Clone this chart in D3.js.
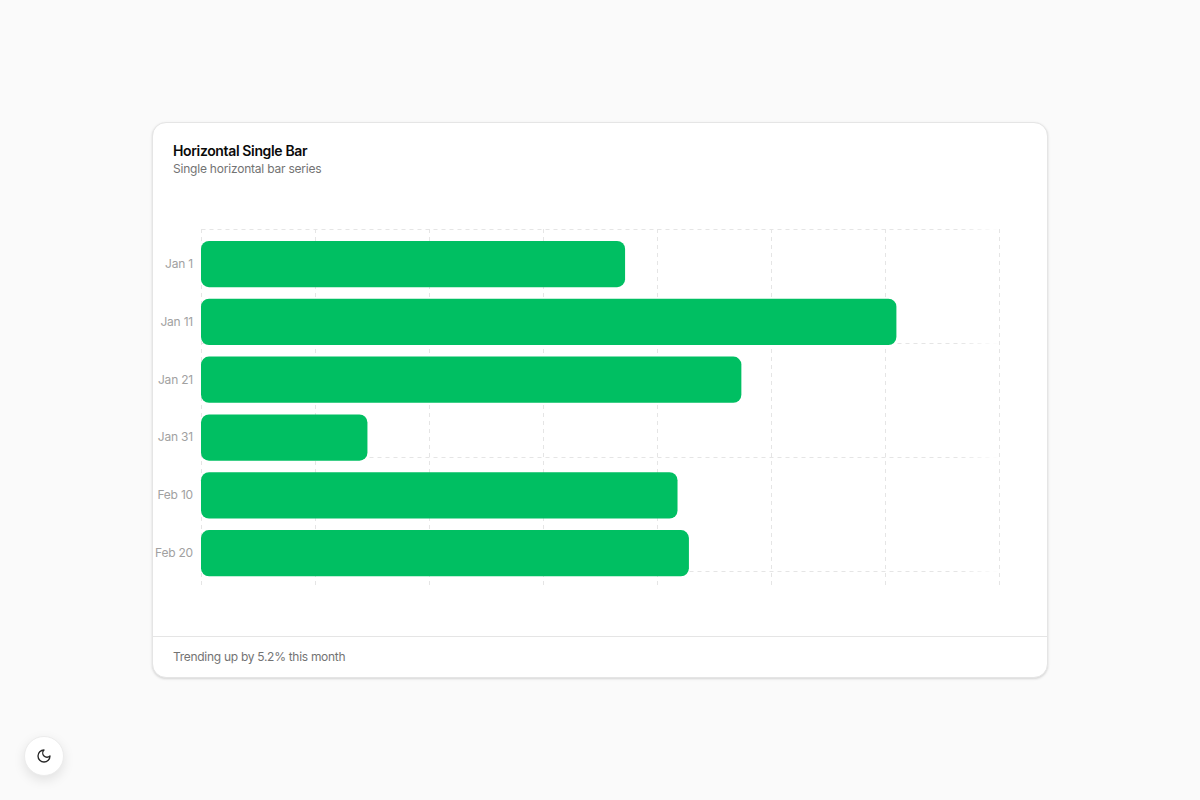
<!DOCTYPE html>
<html>
<head>
<meta charset="utf-8">
<script src="https://cdn.jsdelivr.net/npm/d3@7/dist/d3.min.js"></script>
<style>
html,body{margin:0;padding:0;background:#fafafa;width:1200px;height:800px;overflow:hidden;font-family:Inter,sans-serif;}
.card{position:absolute;left:152px;top:122px;width:894px;height:554px;background:#fff;border:1px solid #e5e5e5;border-radius:14px;box-shadow:0 1px 3px rgba(0,0,0,.1),0 1px 2px rgba(0,0,0,.06);}
.foot{position:absolute;left:0;right:0;top:513px;border-top:1px solid #e5e5e5;}
.t{position:absolute;white-space:nowrap;}
#title{left:173px;top:141.5px;font-size:14px;line-height:17px;font-weight:600;color:#0a0a0a;letter-spacing:-.36px;}
#sub{left:173px;top:161px;font-size:12px;line-height:16px;color:#737373;letter-spacing:-.21px;}
#note{left:173px;top:649px;font-size:12px;line-height:16px;color:#737373;letter-spacing:-.29px;}
#chart{position:absolute;left:0;top:0;}
.toggle{position:absolute;left:24px;top:736px;width:40px;height:40px;border-radius:50%;background:#fff;border:1px solid #ececec;box-sizing:border-box;box-shadow:0 4px 12px rgba(0,0,0,.1);display:flex;align-items:center;justify-content:center;}
</style>
</head>
<body>
<div class="card"><div class="foot"></div></div>
<div class="t" id="title">Horizontal Single Bar</div>
<div class="t" id="sub">Single horizontal bar series</div>
<div class="t" id="note">Trending up by 5.2% this month</div>
<svg id="chart" width="1200" height="800"></svg>
<div class="toggle"><svg width="16" height="16" viewBox="0 0 24 24" fill="none" stroke="#262626" stroke-width="2" stroke-linecap="round" stroke-linejoin="round"><path d="M12 3a6 6 0 0 0 9 9 9 9 0 1 1-9-9Z"/></svg></div>
<script>
const categories = ["Jan 1","Jan 11","Jan 21","Jan 31","Feb 10","Feb 20"];
const values = [186,305,237,73,209,214];
const xTicks = [0,50,100,150,200,250,300,350];
const gridRows = [0,1,2,3];
const barColor = "#00bf62";
const gridColor = "#e5e5e5";

const svg = d3.select("#chart");
const x = d3.scaleLinear().domain([0,350]).range([201.5,999.5]);
const y = d3.scaleBand().domain(categories).range([235.1,582.1]).paddingInner(0.2).paddingOuter(0.1);
const rowY = d3.scaleLinear().domain([0,3]).range([229.5,571.5]);

const defs = svg.append("defs");
const g = defs.append("linearGradient").attr("id","fade").attr("gradientUnits","userSpaceOnUse")
  .attr("x1",x(0)).attr("x2",x(350)).attr("y1",0).attr("y2",0);
g.append("stop").attr("offset","0.95").attr("stop-color",gridColor).attr("stop-opacity",1);
g.append("stop").attr("offset","1").attr("stop-color",gridColor).attr("stop-opacity",0);

const xGrid = svg.append("g").attr("transform","translate(0,229)")
  .call(d3.axisBottom(x).tickValues(xTicks).tickSize(356).tickFormat("").offset(0));
xGrid.select(".domain").remove();
xGrid.selectAll("line").attr("stroke",gridColor).attr("stroke-dasharray","4 4");

svg.append("g").selectAll("line").data(gridRows).join("line")
  .attr("x1",x(0)).attr("x2",x(350)).attr("y1",d=>rowY(d)).attr("y2",d=>rowY(d))
  .attr("stroke","url(#fade)").attr("stroke-dasharray","4 4");

svg.append("g").selectAll("rect").data(values).join("rect")
  .attr("x",x(0)-0.5)
  .attr("y",(d,i)=>y(categories[i]))
  .attr("width",d=>x(d)-x(0))
  .attr("height",y.bandwidth())
  .attr("rx",8).attr("ry",8)
  .attr("fill",barColor);

const yAxis = svg.append("g").attr("transform","translate(201,0)")
  .call(d3.axisLeft(y).tickSize(0).tickPadding(8).offset(0));
yAxis.select(".domain").remove();
yAxis.selectAll("text").attr("fill","#a1a1a1").style("font-family","Inter,sans-serif").style("font-size","12px").style("letter-spacing","-.2px");
</script>
</body>
</html>
